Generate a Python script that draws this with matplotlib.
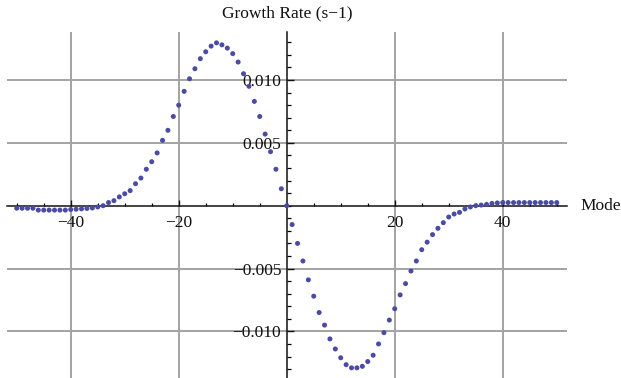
import matplotlib
matplotlib.use("Agg")
import matplotlib.pyplot as plt
from matplotlib.ticker import MultipleLocator, FixedLocator

# Mode numbers and growth rates (s^-1)
modes = list(range(-50, 51))
neg_side = [
    -0.0002, -0.0002, -0.0002, -0.0002, -0.00035, -0.00035, -0.00035, -0.00035, -0.00035, -0.00035,  # -50..-41
    -0.0003, -0.00028, -0.00025, -0.00022, -0.00018, -0.0001, 0.0, 0.00025, 0.0004, 0.0007,          # -40..-31
    0.00095, 0.0012, 0.00175, 0.0022, 0.0029, 0.0035, 0.0042, 0.0052, 0.0060, 0.0071,                # -30..-21
    0.0080, 0.0091, 0.0101, 0.0109, 0.0117, 0.01225, 0.0127, 0.01296, 0.0128, 0.01254,              # -20..-11
    0.0121, 0.01143, 0.0105, 0.0095, 0.0083, 0.0071, 0.0057, 0.0043, 0.0029, 0.00135,               # -10..-1
]
zero_mode = [0.0]
pos_side = [
    -0.0015, -0.0030, -0.0044, -0.0059, -0.0072, -0.0085, -0.0095, -0.0106, -0.0114, -0.0121,       # 1..10
    -0.01265, -0.0129, -0.0129, -0.01278, -0.0124, -0.0119, -0.0110, -0.0101, -0.0091, -0.0082,     # 11..20
    -0.0071, -0.0062, -0.0052, -0.0044, -0.0035, -0.0029, -0.0023, -0.0018, -0.00135, -0.0009,      # 21..30
    -0.00066, -0.00053, -0.00026, -0.0001, 0.0, 0.00005, 0.0001, 0.00018, 0.00022, 0.00025,         # 31..40
    0.00025, 0.00025, 0.00025, 0.00025, 0.00025, 0.00025, 0.00025, 0.00025, 0.00025, 0.00025,       # 41..50
]
growth_rate = neg_side + zero_mode + pos_side

x_tick_labels = [-40, -20, 20, 40]
y_tick_values = [-0.010, -0.005, 0.005, 0.010]

plt.rcParams['font.family'] = ['Liberation Serif', 'DejaVu Serif']

W, H = 621, 378
fig = plt.figure(figsize=(W / 100, H / 100), dpi=100)
left_px, right_px, top_px = 7, 567, 31.7
ax = fig.add_axes([left_px / W, 0.0, (right_px - left_px) / W, (H - top_px) / H])

ax.set_xlim(-51.8, 51.9)
ax.set_ylim(-0.01371, 0.013846)

# Grid lines
for gx in x_tick_labels:
    ax.axvline(gx, color='#a3a3a3', lw=1.4, zorder=1)
for gy in y_tick_values:
    ax.axhline(gy, color='#a3a3a3', lw=1.4, zorder=1)

ax.scatter(modes, growth_rate, s=13, color='#4b4ba6', edgecolors='none', zorder=3)

# Axes crossing at the origin
for side in ('top', 'right'):
    ax.spines[side].set_visible(False)
ax.spines['left'].set_position(('data', 0))
ax.spines['bottom'].set_position(('data', 0))
for side in ('left', 'bottom'):
    ax.spines[side].set_linewidth(1.1)
    ax.spines[side].set_color('#111111')
    ax.spines[side].set_zorder(2)

ax.xaxis.set_major_locator(FixedLocator(x_tick_labels))
ax.xaxis.set_minor_locator(MultipleLocator(5))
ax.yaxis.set_major_locator(FixedLocator(y_tick_values))
ax.yaxis.set_minor_locator(MultipleLocator(0.001))

ax.set_xticklabels([f"\u2212{abs(v)}" if v < 0 else f"{v}" for v in x_tick_labels])
ax.set_yticklabels([(f"\u2212{abs(v):.3f}" if v < 0 else f"{v:.3f}") for v in y_tick_values])

ax.tick_params(axis='x', which='major', direction='in', length=4, width=1.0, pad=7,
               labelsize=12.5, colors='#111111')
ax.tick_params(axis='x', which='minor', direction='in', length=2.5, width=0.9)
ax.tick_params(axis='y', which='major', direction='in', length=5, width=1.0, pad=4,
               labelsize=12.5, colors='#111111')
ax.tick_params(axis='y', which='minor', direction='in', length=3, width=0.9)

fig.text(287 / W, 1 - 13 / H, "Growth Rate (s\u22121)", ha='center', va='center',
         fontsize=12.5, color='#111111')
fig.text(580 / W, 1 - 206 / H, "Mode", ha='left', va='center', fontsize=12.5, color='#111111')

fig.savefig("out.png", dpi=100)
